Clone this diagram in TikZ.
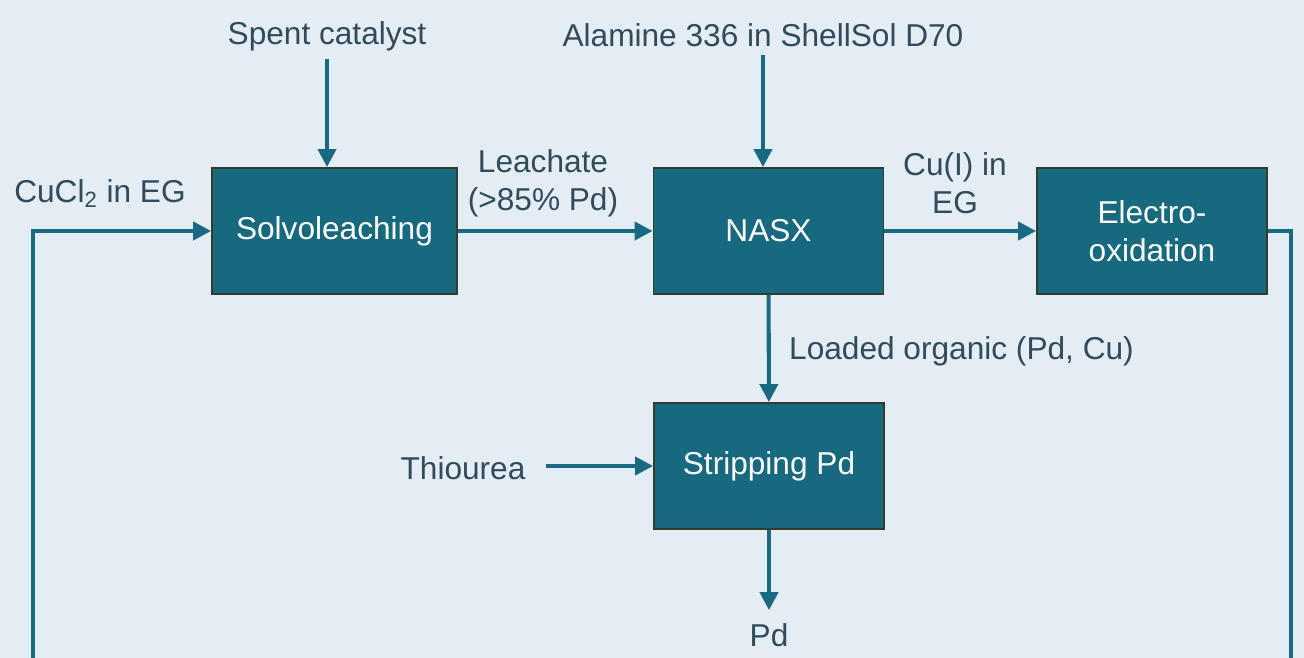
\documentclass[tikz,border=0pt]{standalone}
\usepackage{fontspec}
\setmainfont{Liberation Sans}
\usetikzlibrary{arrows.meta}
\definecolor{bgblue}{HTML}{E4ECF4}
\definecolor{tealbox}{HTML}{17697F}
\definecolor{boxedge}{HTML}{343C2C}
\definecolor{flowteal}{HTML}{186A82}
\definecolor{labelgrey}{HTML}{2F4B5C}

\begin{document}
\begin{tikzpicture}[x=0.02cm,y=-0.02cm]
                    \tikzstyle{unit}=[rectangle,draw=boxedge,line width=1.1pt,fill=tealbox,text=white,align=center,minimum width=4.6cm,minimum height=2.52cm,font=\fontsize{18}{21.6}\selectfont]
                    \tikzstyle{lbl}=[text=labelgrey,align=center,font=\fontsize{18}{21.6}\selectfont]
                    \tikzstyle{flow}=[draw=flowteal,line width=2.3pt,-{Triangle[length=0.36cm,width=0.36cm]}]

                    \useasboundingbox (0,0) rectangle (1304,658);
                    \fill [bgblue] (0,0) rectangle (1304,658);
                    \clip (0,0) rectangle (1304,658);

                    \node (solvo) at (334.5,231) [unit,minimum width=4.9cm] {Solvoleaching};
                    \node (nasx) at (768.5,231) [unit] {NASX};
                    \node (electro) at (1152,231) [unit] {Electro-\\oxidation};
                    \node (strip) at (769,466) [unit] {Stripping Pd};

                    \node (spent) at (327,36) [lbl] {Spent catalyst};
                    \node (alamine) at (763,35) [lbl] {Alamine 336 in ShellSol D70};
                    \node (cucl) at (100,194) [lbl] {CuCl\textsubscript{2} in EG};
                    \node (leach) at (543,183) [lbl] {Leachate\\(>85\% Pd)};
                    \node (cui) at (955,183) [lbl] {Cu(I) in\\EG};
                    \node (loaded) at (783,351) [lbl,anchor=west] {Loaded organic (Pd, Cu)};
                    \node (thio) at (463,468) [lbl] {Thiourea};
                    \node (pd) at (769,635) [lbl] {Pd};

                    \coordinate (retR) at (1291,720);
                    \coordinate (retL) at (33,720);

                    \draw [flow,shorten <=1pt] (spent) -- (spent |- solvo.north);
                    \draw [flow,shorten <=1pt] (alamine) -- (alamine |- nasx.north);
                    \draw [flow] (solvo) -- (nasx);
                    \draw [flow] (nasx) -- (electro);
                    \draw [flow] (nasx) -- (strip);
                    \draw [flow,shorten <=8pt] (thio.east |- strip.west) -- (strip.west);
                    \draw [flow,shorten >=4pt] (strip) -- (pd);

                    \draw [flow] (electro.east) -| (retR) -- (retL) |- (solvo.west);
                \end{tikzpicture}
\end{document}
